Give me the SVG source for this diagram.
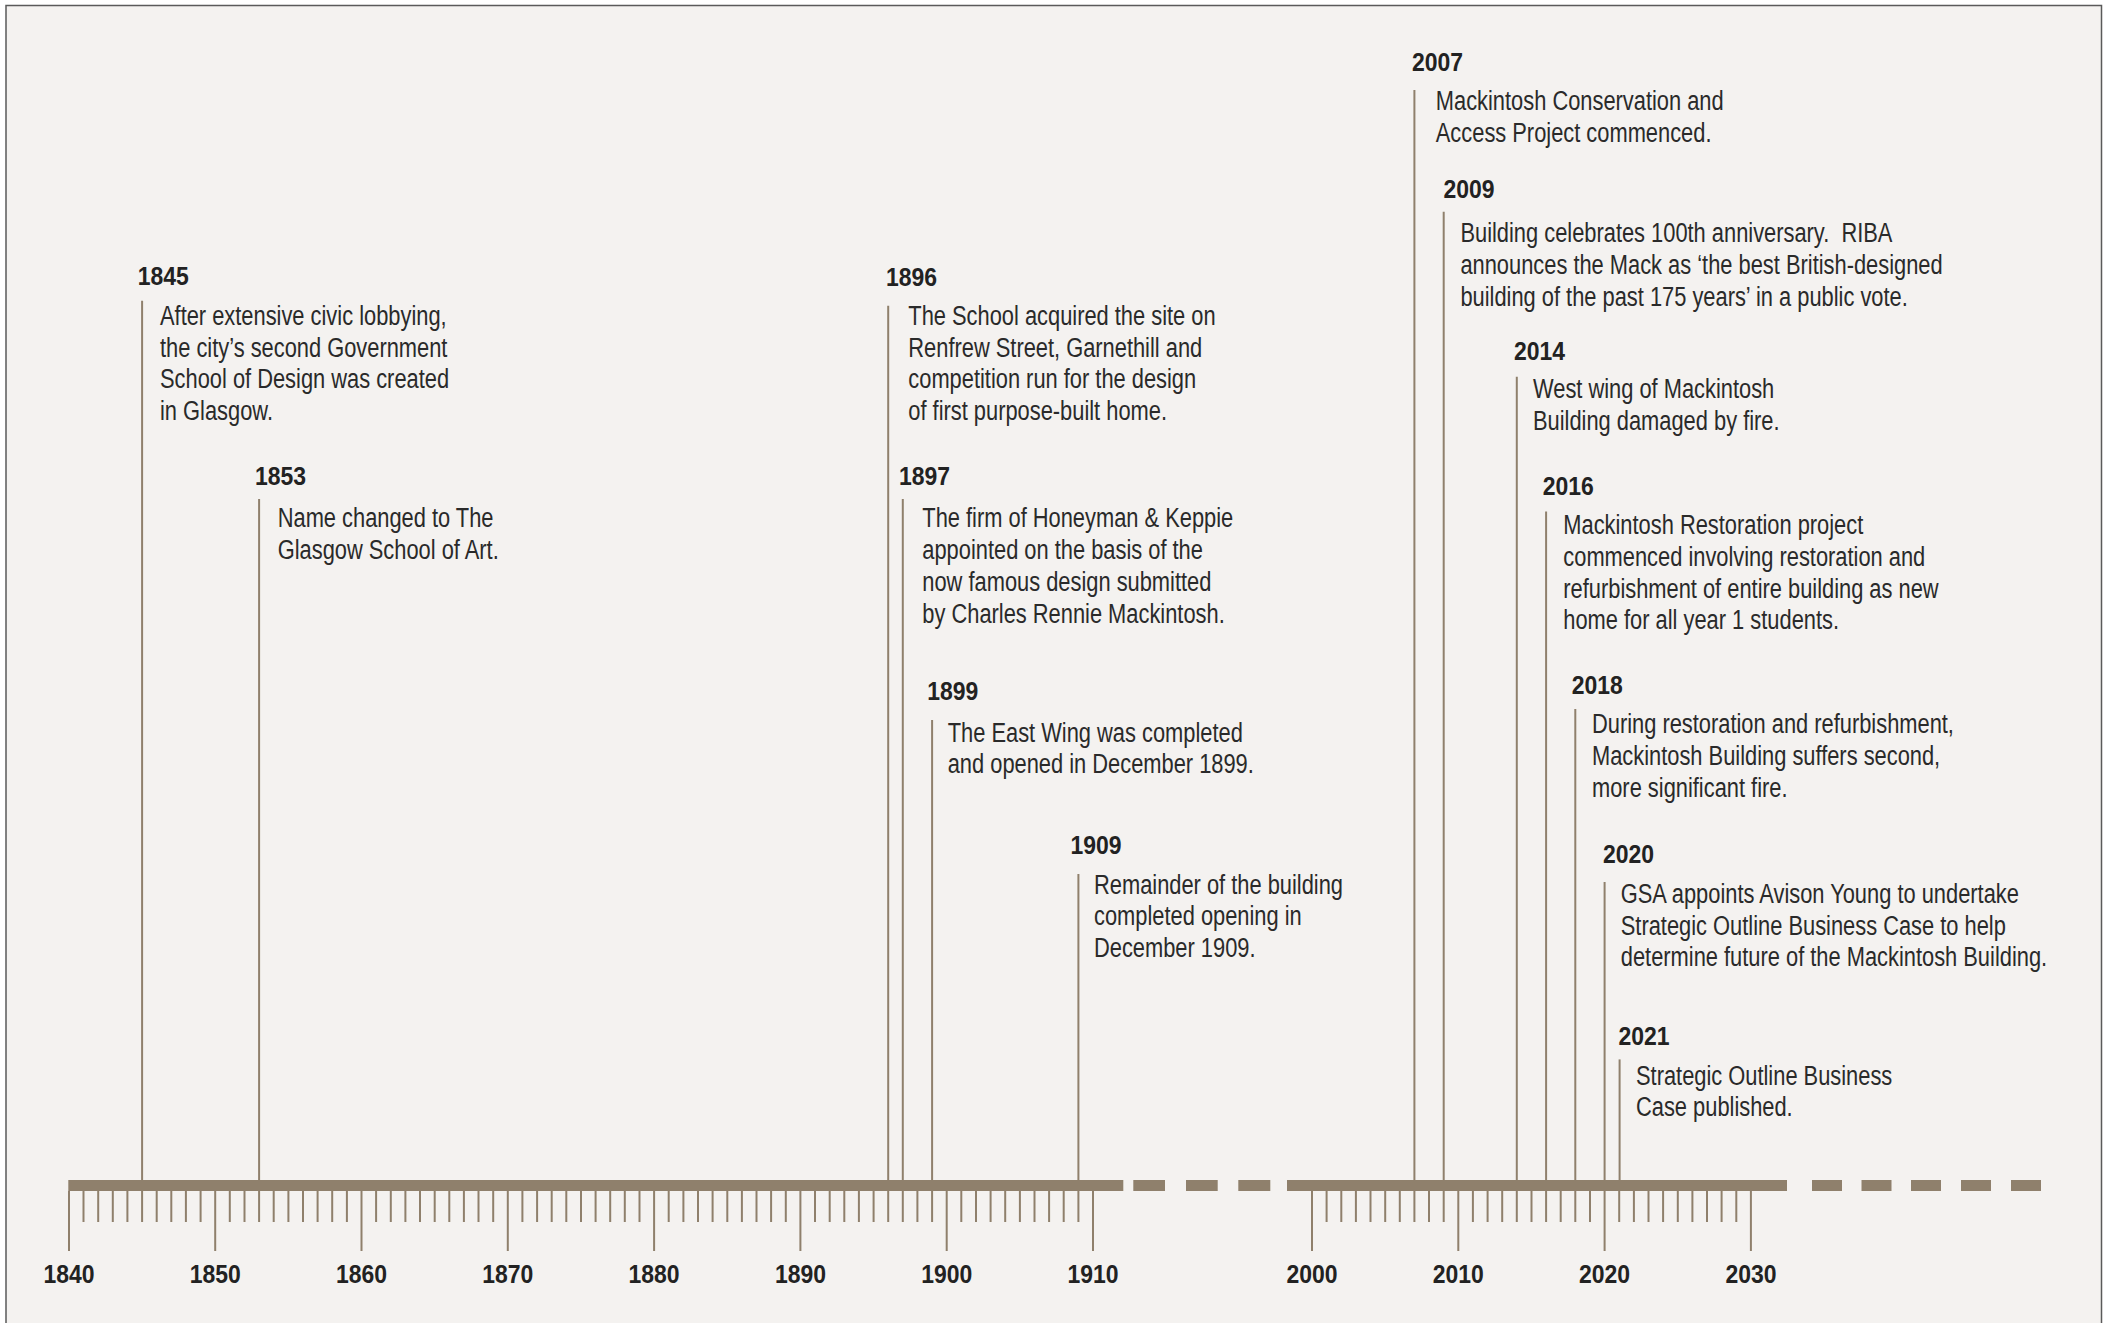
<svg xmlns="http://www.w3.org/2000/svg" width="2109" height="1323" viewBox="0 0 2109 1323">
<style>
.yr{font-family:"Liberation Sans",Arial,sans-serif;font-weight:bold;font-size:25.5px;fill:#222222}
.ax{font-family:"Liberation Sans",Arial,sans-serif;font-weight:bold;font-size:25.5px;fill:#222222;text-anchor:middle}
.bd{font-family:"Liberation Sans",Arial,sans-serif;font-size:27px;fill:#2a2a2a}
.ln{stroke:#8f806c;stroke-width:2;fill:none}
.bar{fill:#8f806c}
</style>
<rect x="0" y="0" width="2109" height="1323" fill="#ffffff"/>
<rect x="6" y="5.5" width="2095.5" height="1340" fill="#f4f2f0" stroke="#5a5a5a" stroke-width="1.5"/>

<g id="axis">
<rect class="bar" x="68.3" y="1180" width="1055" height="11"/>
<rect class="bar" x="1133.3" y="1180" width="31.7" height="11"/>
<rect class="bar" x="1186" y="1180" width="31.7" height="11"/>
<rect class="bar" x="1238.3" y="1180" width="32" height="11"/>
<rect class="bar" x="1287" y="1180" width="500" height="11"/>
<rect class="bar" x="1812" y="1180" width="30" height="11"/>
<rect class="bar" x="1861.5" y="1180" width="30" height="11"/>
<rect class="bar" x="1911" y="1180" width="30" height="11"/>
<rect class="bar" x="1961" y="1180" width="30" height="11"/>
<rect class="bar" x="2011" y="1180" width="30" height="11"/>
<path class="ln" d="M83.5 1191V1222M98.2 1191V1222M112.8 1191V1222M127.4 1191V1222M142.1 1191V1222M156.7 1191V1222M171.3 1191V1222M185.9 1191V1222M200.6 1191V1222
M229.8 1191V1222M244.5 1191V1222M259.1 1191V1222M273.7 1191V1222M288.4 1191V1222M303 1191V1222M317.6 1191V1222M332.2 1191V1222M346.9 1191V1222
M376.1 1191V1222M390.8 1191V1222M405.4 1191V1222M420 1191V1222M434.7 1191V1222M449.3 1191V1222M463.9 1191V1222M478.5 1191V1222M493.2 1191V1222
M522.4 1191V1222M537.1 1191V1222M551.7 1191V1222M566.3 1191V1222M581 1191V1222M595.6 1191V1222M610.2 1191V1222M624.8 1191V1222M639.5 1191V1222
M668.7 1191V1222M683.4 1191V1222M698 1191V1222M712.6 1191V1222M727.3 1191V1222M741.9 1191V1222M756.5 1191V1222M771.1 1191V1222M785.8 1191V1222
M815 1191V1222M829.7 1191V1222M844.3 1191V1222M858.9 1191V1222M873.6 1191V1222M888.2 1191V1222M902.8 1191V1222M917.4 1191V1222M932.1 1191V1222
M961.3 1191V1222M976 1191V1222M990.6 1191V1222M1005.2 1191V1222M1019.9 1191V1222M1034.5 1191V1222M1049.1 1191V1222M1063.7 1191V1222M1078.4 1191V1222
M1326.6 1191V1222M1341.3 1191V1222M1355.9 1191V1222M1370.5 1191V1222M1385.2 1191V1222M1399.8 1191V1222M1414.4 1191V1222M1429 1191V1222M1443.7 1191V1222
M1472.9 1191V1222M1487.6 1191V1222M1502.2 1191V1222M1516.8 1191V1222M1531.5 1191V1222M1546.1 1191V1222M1560.7 1191V1222M1575.3 1191V1222M1590 1191V1222
M1619.2 1191V1222M1633.9 1191V1222M1648.5 1191V1222M1663.1 1191V1222M1677.8 1191V1222M1692.4 1191V1222M1707 1191V1222M1721.6 1191V1222M1736.3 1191V1222"/>
<path class="ln" d="M69 1191V1251M215.2 1191V1251M361.5 1191V1251M507.8 1191V1251M654.1 1191V1251M800.4 1191V1251M946.7 1191V1251M1093 1191V1251M1312 1191V1251M1458.3 1191V1251M1604.6 1191V1251M1750.9 1191V1251"/>
<text class="ax" transform="translate(69 0) scale(.9 1)" x="0" y="1283">1840</text>
<text class="ax" transform="translate(215.2 0) scale(.9 1)" x="0" y="1283">1850</text>
<text class="ax" transform="translate(361.5 0) scale(.9 1)" x="0" y="1283">1860</text>
<text class="ax" transform="translate(507.8 0) scale(.9 1)" x="0" y="1283">1870</text>
<text class="ax" transform="translate(654.1 0) scale(.9 1)" x="0" y="1283">1880</text>
<text class="ax" transform="translate(800.4 0) scale(.9 1)" x="0" y="1283">1890</text>
<text class="ax" transform="translate(946.7 0) scale(.9 1)" x="0" y="1283">1900</text>
<text class="ax" transform="translate(1093 0) scale(.9 1)" x="0" y="1283">1910</text>
<text class="ax" transform="translate(1312 0) scale(.9 1)" x="0" y="1283">2000</text>
<text class="ax" transform="translate(1458.3 0) scale(.9 1)" x="0" y="1283">2010</text>
<text class="ax" transform="translate(1604.6 0) scale(.9 1)" x="0" y="1283">2020</text>
<text class="ax" transform="translate(1750.9 0) scale(.9 1)" x="0" y="1283">2030</text>
</g>

<g id="connectors">
<path class="ln" d="M142.1 300.7V1180"/>
<path class="ln" d="M259.1 499V1180"/>
<path class="ln" d="M888.2 305.7V1180"/>
<path class="ln" d="M902.8 499V1180"/>
<path class="ln" d="M932.1 720V1180"/>
<path class="ln" d="M1078.4 874V1180"/>
<path class="ln" d="M1414.4 90V1180"/>
<path class="ln" d="M1443.7 211.7V1180"/>
<path class="ln" d="M1516.8 376.7V1180"/>
<path class="ln" d="M1546.1 511.6V1180"/>
<path class="ln" d="M1575.3 709V1180"/>
<path class="ln" d="M1604.6 882V1180"/>
<path class="ln" d="M1619.6 1059.4V1180"/>
</g>

<g id="e1845">
<text class="yr" transform="translate(137.7 0) scale(.9 1)" x="0" y="285">1845</text>
<text class="bd" transform="translate(160 0) scale(.81 1)" y="325"><tspan x="0">After extensive civic lobbying,</tspan><tspan x="0" dy="31.7">the city’s second Government</tspan><tspan x="0" dy="31.7">School of Design was created</tspan><tspan x="0" dy="31.7">in Glasgow.</tspan></text>
</g>
<g id="e1853">
<text class="yr" transform="translate(255 0) scale(.9 1)" x="0" y="485">1853</text>
<text class="bd" transform="translate(277.7 0) scale(.81 1)" y="527.3"><tspan x="0">Name changed to The</tspan><tspan x="0" dy="31.5">Glasgow School of Art.</tspan></text>
</g>
<g id="e1896">
<text class="yr" transform="translate(886 0) scale(.9 1)" x="0" y="285.7">1896</text>
<text class="bd" transform="translate(908.3 0) scale(.81 1)" y="325"><tspan x="0">The School acquired the site on</tspan><tspan x="0" dy="31.7">Renfrew Street, Garnethill and</tspan><tspan x="0" dy="31.7">competition run for the design</tspan><tspan x="0" dy="31.7">of first purpose-built home.</tspan></text>
</g>
<g id="e1897">
<text class="yr" transform="translate(899 0) scale(.9 1)" x="0" y="485">1897</text>
<text class="bd" transform="translate(922.3 0) scale(.81 1)" y="527.3"><tspan x="0">The firm of Honeyman &amp; Keppie</tspan><tspan x="0" dy="32">appointed on the basis of the</tspan><tspan x="0" dy="32">now famous design submitted</tspan><tspan x="0" dy="32">by Charles Rennie Mackintosh.</tspan></text>
</g>
<g id="e1899">
<text class="yr" transform="translate(927.3 0) scale(.9 1)" x="0" y="700">1899</text>
<text class="bd" transform="translate(947.7 0) scale(.81 1)" y="741.7"><tspan x="0">The East Wing was completed</tspan><tspan x="0" dy="31.6">and opened in December 1899.</tspan></text>
</g>
<g id="e1909">
<text class="yr" transform="translate(1070.5 0) scale(.9 1)" x="0" y="854">1909</text>
<text class="bd" transform="translate(1094 0) scale(.81 1)" y="894"><tspan x="0">Remainder of the building</tspan><tspan x="0" dy="31.5">completed opening in</tspan><tspan x="0" dy="31.5">December 1909.</tspan></text>
</g>
<g id="e2007">
<text class="yr" transform="translate(1412 0) scale(.9 1)" x="0" y="70.7">2007</text>
<text class="bd" transform="translate(1435.8 0) scale(.81 1)" y="110"><tspan x="0">Mackintosh Conservation and</tspan><tspan x="0" dy="31.7">Access Project commenced.</tspan></text>
</g>
<g id="e2009">
<text class="yr" transform="translate(1443.4 0) scale(.9 1)" x="0" y="198.3">2009</text>
<text class="bd" transform="translate(1460.4 0) scale(.81 1)" y="241.7" xml:space="preserve"><tspan x="0">Building celebrates 100th anniversary.  RIBA</tspan><tspan x="0" dy="32">announces the Mack as ‘the best British-designed</tspan><tspan x="0" dy="32">building of the past 175 years’ in a public vote.</tspan></text>
</g>
<g id="e2014">
<text class="yr" transform="translate(1514 0) scale(.9 1)" x="0" y="360">2014</text>
<text class="bd" transform="translate(1533 0) scale(.81 1)" y="398.3"><tspan x="0">West wing of Mackintosh</tspan><tspan x="0" dy="31.7">Building damaged by fire.</tspan></text>
</g>
<g id="e2016">
<text class="yr" transform="translate(1542.7 0) scale(.9 1)" x="0" y="494.6">2016</text>
<text class="bd" transform="translate(1563.3 0) scale(.81 1)" y="534"><tspan x="0">Mackintosh Restoration project</tspan><tspan x="0" dy="31.8">commenced involving restoration and</tspan><tspan x="0" dy="31.8">refurbishment of entire building as new</tspan><tspan x="0" dy="31.8">home for all year 1 students.</tspan></text>
</g>
<g id="e2018">
<text class="yr" transform="translate(1571.8 0) scale(.9 1)" x="0" y="694.2">2018</text>
<text class="bd" transform="translate(1592 0) scale(.81 1)" y="733.5"><tspan x="0">During restoration and refurbishment,</tspan><tspan x="0" dy="31.9">Mackintosh Building suffers second,</tspan><tspan x="0" dy="31.9">more significant fire.</tspan></text>
</g>
<g id="e2020">
<text class="yr" transform="translate(1603 0) scale(.9 1)" x="0" y="863">2020</text>
<text class="bd" transform="translate(1620.8 0) scale(.81 1)" y="903"><tspan x="0">GSA appoints Avison Young to undertake</tspan><tspan x="0" dy="31.7">Strategic Outline Business Case to help</tspan><tspan x="0" dy="31.7">determine future of the Mackintosh Building.</tspan></text>
</g>
<g id="e2021">
<text class="yr" transform="translate(1618.4 0) scale(.9 1)" x="0" y="1045">2021</text>
<text class="bd" transform="translate(1636 0) scale(.81 1)" y="1084.8"><tspan x="0">Strategic Outline Business</tspan><tspan x="0" dy="31.2">Case published.</tspan></text>
</g>
</svg>
